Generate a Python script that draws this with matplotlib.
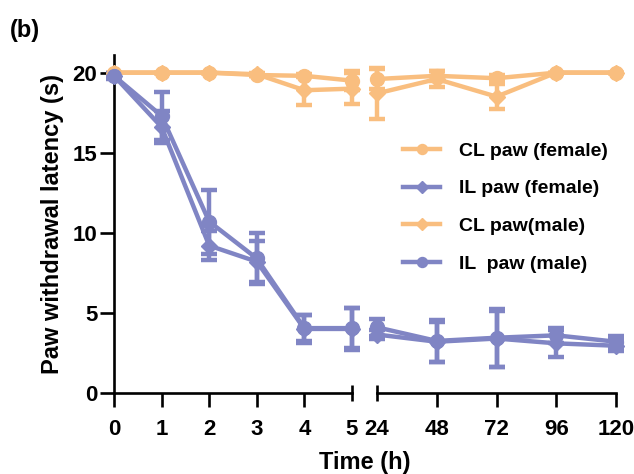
import numpy as np
import matplotlib
matplotlib.use('Agg')
import matplotlib.pyplot as plt
from matplotlib.ticker import FixedLocator, FixedFormatter

plt.rcParams['font.family'] = ['Liberation Sans', 'DejaVu Sans']
plt.rcParams['font.weight'] = 'bold'

# time points (h), split in two panels of the broken axis
t_early = [0, 1, 2, 3, 4, 5]
t_late = [24, 48, 72, 96, 120]

# CL paw (female)
cl_f_early = [20.0, 20.0, 20.0, 19.85, 19.8, 19.5]
cl_f_early_err = [0.0, 0.0, 0.0, 0.05, 0.1, 0.6]
cl_f_late = [19.6, 19.8, 19.65, 20.0, 20.0]
cl_f_late_err = [0.65, 0.3, 0.2, 0.0, 0.0]

# IL paw (female)
il_f_early = [19.8, 16.6, 9.2, 8.2, 4.0, 4.0]
il_f_early_err = [0.1, 1.0, 0.9, 1.3, 0.9, 1.3]
il_f_late = [3.65, 3.2, 3.4, 3.1, 2.95]
il_f_late_err = [0.3, 1.25, 1.75, 0.85, 0.35]

# CL paw (male)
cl_m_early = [20.0, 20.0, 20.0, 19.9, 18.9, 19.0]
cl_m_early_err = [0.0, 0.0, 0.0, 0.1, 0.9, 0.95]
cl_m_late = [18.7, 19.6, 18.5, 20.0, 20.0]
cl_m_late_err = [1.6, 0.5, 0.8, 0.0, 0.0]

# IL paw (male)
il_m_early = [19.8, 17.3, 10.7, 8.4, 4.05, 4.05]
il_m_early_err = [0.2, 1.5, 2.0, 1.6, 0.8, 1.25]
il_m_late = [4.1, 3.25, 3.45, 3.6, 3.2]
il_m_late_err = [0.55, 1.3, 1.8, 0.45, 0.35]

labels = ['CL paw (female)', 'IL paw (female)', 'CL paw(male)', 'IL  paw (male)']

orange = '#F9BE7F'
blue = '#8085C4'

series = [
    (cl_f_early, cl_f_early_err, cl_f_late, cl_f_late_err, orange, 'o'),
    (il_f_early, il_f_early_err, il_f_late, il_f_late_err, blue, 'D'),
    (cl_m_early, cl_m_early_err, cl_m_late, cl_m_late_err, orange, 'D'),
    (il_m_early, il_m_early_err, il_m_late, il_m_late_err, blue, 'o'),
]

W, H = 634, 474
fig = plt.figure(figsize=(W / 100, H / 100), dpi=100)
y0, y1 = 393, 55
ax1 = fig.add_axes([114 / W, (H - y0) / H, (352 - 114) / W, (y0 - y1) / H])
ax2 = fig.add_axes([377 / W, (H - y0) / H, (616 - 377) / W, (y0 - y1) / H], sharey=ax1)

handles = []
for e, ee, l, le, col, mk in series:
    ms = 10 if mk == 'o' else 8
    kw = dict(color=col, ecolor=col, marker=mk, markersize=ms, lw=3.2,
              elinewidth=3.2, capsize=5.5, capthick=3.2, clip_on=False, zorder=3)
    c = ax1.errorbar(t_early, e, yerr=ee, **kw)
    ax2.errorbar(t_late, l, yerr=le, **kw)
    handles.append(c[0])

lw_ax = 1.9
tick_fs = 16
for ax in (ax1, ax2):
    for s in ('top', 'right'):
        ax.spines[s].set_visible(False)
    for s in ('left', 'bottom'):
        ax.spines[s].set_linewidth(lw_ax)
    ax.tick_params(which='major', direction='out', length=10, width=lw_ax,
                   labelsize=tick_fs)
    ax.tick_params(which='minor', direction='inout', length=11, width=lw_ax,
                   labelsize=tick_fs)
    ax.tick_params(axis='x', which='major', pad=9)
    ax.tick_params(axis='x', which='minor', pad=13.5)
ax1.tick_params(axis='y', which='major', pad=2)

ax1.set_xlim(0, 5)
ax1.set_ylim(0, 21.1)
ax1.set_yticks([0, 5, 10, 15, 20])
ax1.set_xticks([0, 1, 2, 3, 4])
ax1.xaxis.set_minor_locator(FixedLocator([5]))
ax1.xaxis.set_minor_formatter(FixedFormatter(['5']))
ax1.spines['left'].set_bounds(0, 21.1)

ax2.set_xlim(24, 120)
ax2.set_xticks([48, 72, 96, 120])
ax2.xaxis.set_minor_locator(FixedLocator([24]))
ax2.xaxis.set_minor_formatter(FixedFormatter(['24']))
ax2.spines['left'].set_visible(False)
ax2.tick_params(axis='y', which='both', left=False, labelleft=False)

for ax in (ax1, ax2):
    for lab in ax.get_xticklabels(which='both') + ax.get_yticklabels():
        lab.set_fontweight('bold')

ax1.set_ylabel('Paw withdrawal latency (s)', fontsize=17, fontweight='bold', labelpad=6)
fig.text(365 / W, 1 - 463 / H, 'Time (h)', ha='center', va='center',
         fontsize=17, fontweight='bold')
fig.text(10 / W, 1 - 31 / H, '(b)', ha='left', va='center',
         fontsize=17, fontweight='bold')

ax2.legend(handles=handles, labels=labels, loc='upper left',
           bbox_to_anchor=(0.11, 0.742), frameon=False, markerscale=0.72,
           handlelength=1.9, handletextpad=0.95, labelspacing=1.03,
           borderaxespad=0, borderpad=0, prop={'weight': 'bold', 'size': 14})

fig.savefig('out.png', dpi=100)
